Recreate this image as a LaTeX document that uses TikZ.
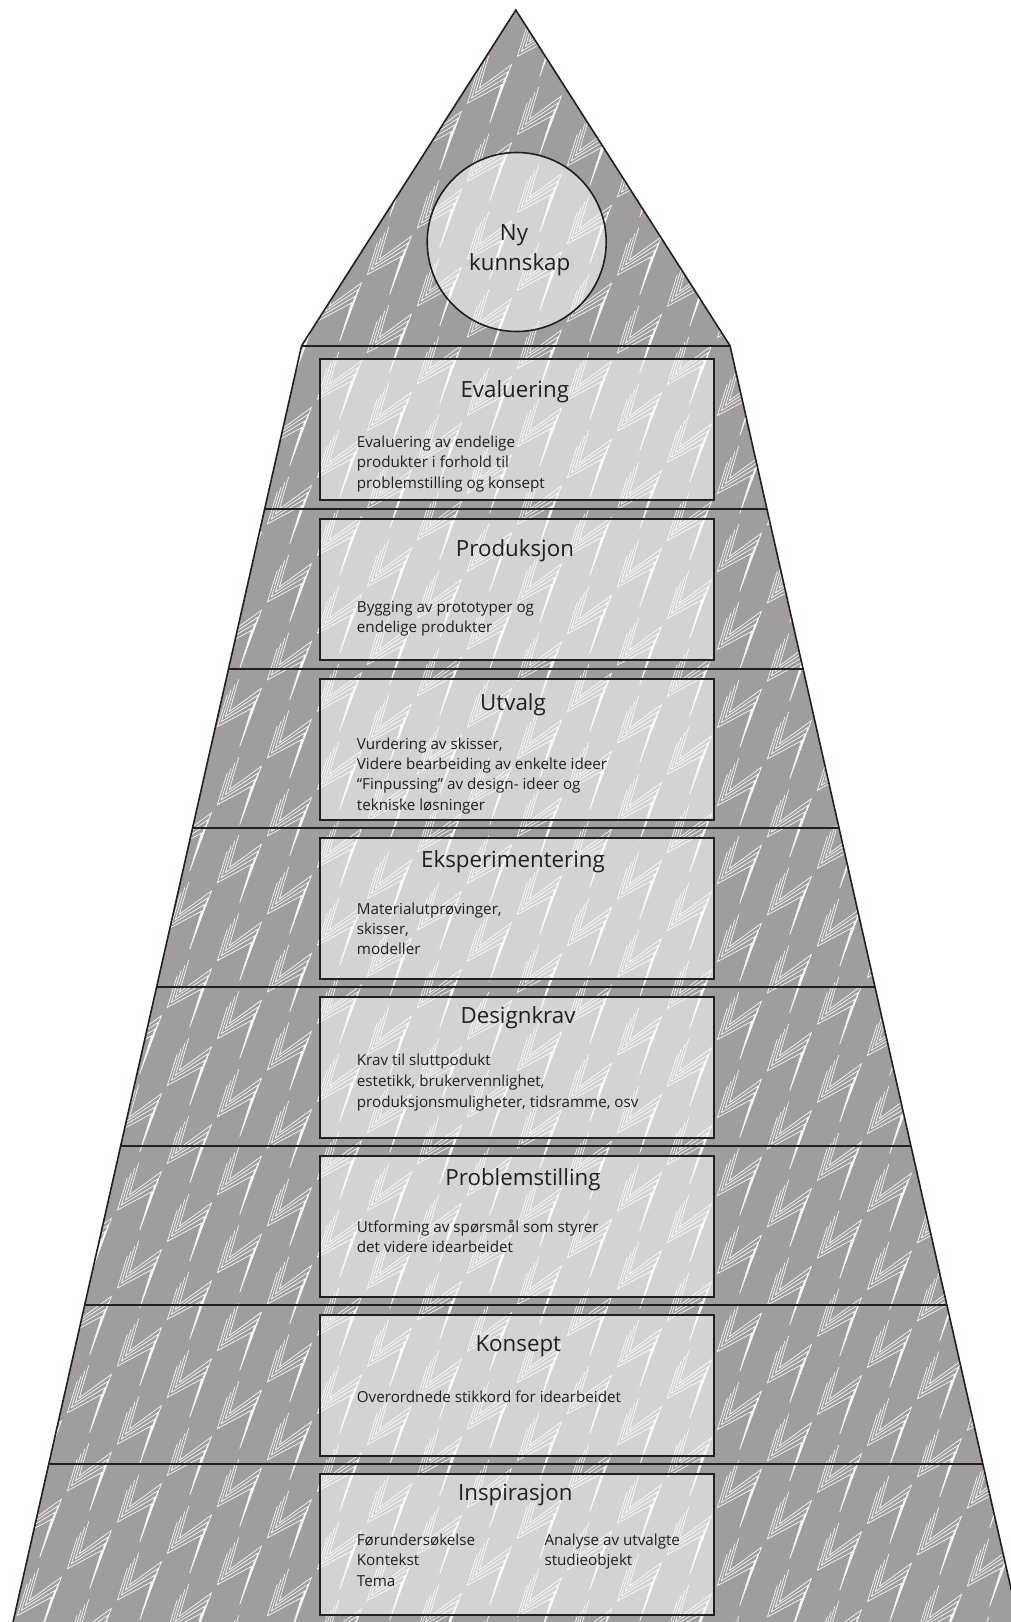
\documentclass[tikz,border=0pt]{standalone}
\usepackage{fontspec}
\setmainfont{Open Sans}
\definecolor{pyrgrey}{RGB}{162,157,157}
\definecolor{inkdark}{RGB}{35,31,32}
\tikzset{
  % one bolt of the background pattern: four shifted zigzags meeting in the tip
  boltmotif/.pic={
    \draw[white, draw opacity=0.9, line width=0.7pt, line join=miter, miter limit=6]
      (-1,-67.3)   -- (-10.3,-35) -- (21.7,-58.3) -- (0,0)
      (-4.8,-62.1) -- (-14.3,-30) -- (18.4,-51.6) -- (0,0)
      (-8.6,-56.9) -- (-18.3,-25) -- (15.1,-44.9) -- (0,0)
      (-12.4,-51.7) -- (-22.3,-20) -- (11.8,-38.2) -- (0,0);
  },
  stagebox/.style={draw=inkdark, line width=2pt, fill=white, fill opacity=0.55,
    minimum width=393.4pt, minimum height=141pt, inner sep=0pt, anchor=north west},
  layerline/.style={draw=inkdark, line width=2pt},
  titletext/.style={text=inkdark, font=\fontsize{22.3}{26}\selectfont, anchor=base, inner sep=0pt},
  bodytext/.style={text=inkdark, font=\fontsize{15.2}{20}\selectfont, anchor=base west, inner sep=0pt},
}
\begin{document}
\begin{tikzpicture}[x=1pt,y=-1pt]
\useasboundingbox (0,0) rectangle (1011,1622);
\clip (0,0) rectangle (1011,1622);

% pyramid body with the bolt pattern
\begin{scope}
  \clip (515.8,10) -- (730,345.7) -- (1024.9,1650) -- (6.7,1650) -- (301.6,345.7) -- cycle;
  \fill[pyrgrey] (-5,-5) rectangle (1030,1660);
  \foreach \a in {-3,...,17}{
    \foreach \b in {-28,...,3}{
      \pgfmathsetmacro{\yy}{1542+31.3*\a+78*\b}
      \ifdim\yy pt>-10pt \ifdim\yy pt<1700pt
        \pic at ({139.7+50*\a},\yy) {boltmotif};
      \fi\fi
    }
  }
  % layer boundaries
  \foreach \ly in {345.7,508.5,668.5,828,987,1146,1305,1464}{
    \draw[layerline] (0,\ly) -- (1011,\ly);
  }
\end{scope}

% stage boxes
\node[stagebox] (evalbox) at (319.3,358.3) {};
\node[stagebox] (prodbox) at (319.3,518.3) {};
\node[stagebox] (utvbox)  at (319.3,678.3) {};
\node[stagebox] (eksbox)  at (319.3,836.7) {};
\node[stagebox] (desbox)  at (319.3,996) {};
\node[stagebox] (probbox) at (319.3,1155) {};
\node[stagebox] (konbox)  at (319.3,1314) {};
\node[stagebox] (inspbox) at (319.3,1472.7) {};

% top circle
\node[circle, draw=inkdark, line width=1.6pt, fill=white, fill opacity=0.55,
      minimum size=179pt, inner sep=0pt] (knowledge) at (516.7,242) {};

% outline of the pyramid
\draw[inkdark, line width=1.6pt, line join=miter]
  (515.8,10) -- (730,345.7) -- (1024.9,1650) -- (6.7,1650) -- (301.6,345.7) -- cycle;

% circle text
\node[titletext] (ny) at (514,240.7) {Ny};
\node[titletext] (kunnskap) at (519.7,270) {kunnskap};

% titles
\node[titletext] (t1) at (514.8,397.3) {Evaluering};
\node[titletext] (t2) at (515,556) {Produksjon};
\node[titletext] (t3) at (513,710) {Utvalg};
\node[titletext] (t4) at (513,867.3) {Eksperimentering};
\node[titletext] (t5) at (518,1023.3) {Designkrav};
\node[titletext] (t6) at (523,1185.7) {Problemstilling};
\node[titletext] (t7) at (518.3,1351) {Konsept};
\node[titletext] (t8) at (515.3,1500.7) {Inspirasjon};

% descriptions
\foreach \t [count=\i from 0] in {Evaluering av endelige, produkter i forhold til, problemstilling og konsept}
  \node[bodytext] (ev\i) at (356.7,{447.3+20.6*\i}) {\t};
\foreach \t [count=\i from 0] in {Bygging av prototyper og, endelige produkter}
  \node[bodytext] (pr\i) at (356.7,{612.3+20*\i}) {\t};
\foreach \t [count=\i from 0] in {{Vurdering av skisser,}, Videre bearbeiding av enkelte ideer, {“Finpussing” av design- ideer og}, tekniske løsninger}
  \node[bodytext] (ut\i) at (356.7,{749.3+20.3*\i}) {\t};
\foreach \t [count=\i from 0] in {{Materialutprøvinger,}, {skisser,}, modeller}
  \node[bodytext] (ek\i) at (356.7,{914+20*\i}) {\t};
\foreach \t [count=\i from 0] in {Krav til sluttpodukt, {estetikk, brukervennlighet,}, {produksjonsmuligheter, tidsramme, osv}}
  \node[bodytext] (de\i) at (356.7,{1065.7+20.7*\i}) {\t};
\foreach \t [count=\i from 0] in {Utforming av spørsmål som styrer, det videre idearbeidet}
  \node[bodytext] (ps\i) at (356.7,{1232.3+20.2*\i}) {\t};
\node[bodytext] (ko0) at (356.7,1402.3) {Overordnede stikkord for idearbeidet};
\foreach \t [count=\i from 0] in {Førundersøkelse, Kontekst, Tema}
  \node[bodytext] (inl\i) at (356.7,{1545+20.5*\i}) {\t};
\foreach \t [count=\i from 0] in {Analyse av utvalgte, studieobjekt}
  \node[bodytext] (inr\i) at (544.3,{1545+20.5*\i}) {\t};
\end{tikzpicture}
\end{document}
